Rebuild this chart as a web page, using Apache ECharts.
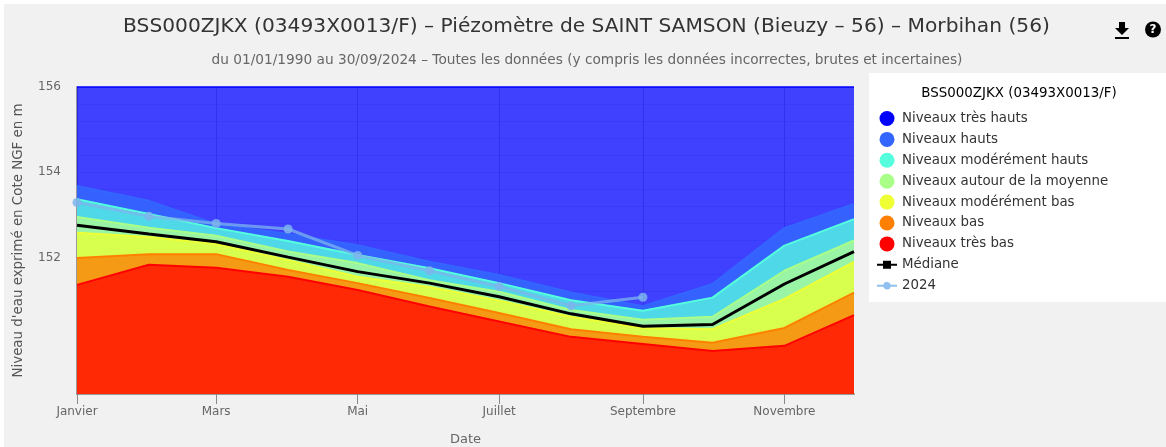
<!DOCTYPE html>
<html>
<head>
<meta charset="utf-8">
<title>Piézomètre de SAINT SAMSON</title>
<script src="https://cdn.jsdelivr.net/npm/echarts@6/dist/echarts.min.js"></script>
<style>
  body { margin: 0; background: #fff; }
  #main { position: absolute; left: 4px; top: 4px; width: 1162px; height: 443px; }
</style>
</head>
<body>
<div id="main"></div>
<script>
// values, one per month (1st of the month)
const months = ['Janvier', 'Février', 'Mars', 'Avril', 'Mai', 'Juin', 'Juillet', 'Août', 'Septembre', 'Octobre', 'Novembre', 'Décembre']
// day of the year of the 1st of each month (2024, leap year)
const monthDays = [0, 31, 60, 91, 121, 152, 182, 213, 244, 274, 305, 335]
const xTickDays = [0, 60, 121, 182, 244, 305]
const yTickLabels = [152, 154, 156]

const tresHauts = [156, 156, 156, 156, 156, 156, 156, 156, 156, 156, 156, 156]
const hauts = [153.68, 153.33, 152.79, 152.55, 152.29, 151.90, 151.59, 151.18, 150.86, 151.38, 152.69, 153.26]
const moderesHauts = [153.37, 153.02, 152.69, 152.39, 152.06, 151.75, 151.40, 151.00, 150.75, 151.06, 152.28, 152.90]
const autourMoyenne = [152.95, 152.70, 152.51, 152.14, 151.87, 151.47, 151.20, 150.77, 150.54, 150.61, 151.69, 152.40]
const moderesBas = [152.58, 152.48, 152.32, 151.94, 151.55, 151.31, 150.99, 150.61, 150.35, 150.32, 151.03, 151.90]
const bas = [151.99, 152.08, 152.08, 151.71, 151.40, 151.05, 150.70, 150.32, 150.14, 150.00, 150.35, 151.18]
const tresBas = [151.36, 151.83, 151.76, 151.55, 151.24, 150.85, 150.50, 150.14, 149.97, 149.81, 149.93, 150.65]
const mediane = [152.76, 152.55, 152.37, 152.01, 151.67, 151.40, 151.08, 150.68, 150.39, 150.43, 151.38, 152.14]
const annee2024 = [153.29, 152.97, 152.80, 152.67, 152.05, 151.69, 151.32, 150.87, 151.07]

const font = '"DejaVu Sans"'
const toPoints = values => values.map((v, i) => [monthDays[i], v])

function areaSerie (name, values, lineColor, fill, opacity) {
  return {
    name: name,
    type: 'line',
    symbol: 'none',
    data: toPoints(values),
    itemStyle: {color: lineColor},
    lineStyle: {color: lineColor, width: 2, opacity: opacity},
    areaStyle: {color: fill, opacity: opacity, origin: 'start'}
  }
}

const chart = echarts.init(document.getElementById('main'))

const option = {
  animation: false,
  backgroundColor: '#f1f1f1',
  textStyle: {fontFamily: font},
  title: [
    {
      text: 'BSS000ZJKX (03493X0013/F) – Piézomètre de SAINT SAMSON (Bieuzy – 56) – Morbihan (56)',
      left: 577.5,
      top: 8,
      textAlign: 'center',
      textStyle: {fontFamily: font, fontSize: 20.2, fontWeight: 'normal', color: '#333'}
    },
    {
      text: 'du 01/01/1990 au 30/09/2024 – Toutes les données (y compris les données incorrectes, brutes et incertaines)',
      left: 578,
      top: 44,
      textAlign: 'center',
      textStyle: {fontFamily: font, fontSize: 13.7, fontWeight: 'normal', color: '#666'}
    },
    {
      text: 'BSS000ZJKX (03493X0013/F)',
      left: 1010,
      top: 78,
      textAlign: 'center',
      textStyle: {fontFamily: font, fontSize: 13.4, fontWeight: 'normal', color: '#000'}
    }
  ],
  graphic: [
    {type: 'rect', shape: {x: 865, y: 69, width: 297, height: 229}, style: {fill: '#fff'}, z: 0},
    {type: 'polygon', shape: {points: [[1115, 18], [1121, 18], [1121, 24], [1125, 24], [1118, 31], [1111, 24], [1115, 24]]}, style: {fill: '#000'}},
    {type: 'rect', shape: {x: 1111, y: 33, width: 14, height: 2}, style: {fill: '#000'}},
    {type: 'circle', shape: {cx: 1149, cy: 25.5, r: 8}, style: {fill: '#000'}},
    {type: 'text', x: 1149, y: 25.5, style: {text: '?', fill: '#fff', fontFamily: font, fontSize: 12, fontWeight: 'bold', align: 'center', verticalAlign: 'middle'}}
  ],
  legend: {
    orient: 'vertical',
    left: 868,
    top: 102,
    itemWidth: 20,
    itemHeight: 15,
    itemGap: 5.9,
    selectedMode: false,
    textStyle: {fontFamily: font, fontSize: 13.35, lineHeight: 15, color: '#333'},
    data: [
      {name: 'Niveaux très hauts', icon: 'circle'},
      {name: 'Niveaux hauts', icon: 'circle'},
      {name: 'Niveaux modérément hauts', icon: 'circle'},
      {name: 'Niveaux autour de la moyenne', icon: 'circle'},
      {name: 'Niveaux modérément bas', icon: 'circle'},
      {name: 'Niveaux bas', icon: 'circle'},
      {name: 'Niveaux très bas', icon: 'circle'},
      {name: 'Médiane', icon: 'path://M0 3H6V0H14V3H20V5H14V8H6V5H0Z'},
      {name: '2024', icon: 'path://M0 3H6.2A4 4 0 0 1 13.8 3H20V5H13.8A4 4 0 0 1 6.2 5H0Z'}
    ]
  },
  grid: {
    left: 73,
    right: 312,
    top: 83,
    bottom: 53,
    show: true,
    backgroundColor: '#fff',
    borderWidth: 0,
    outerBoundsMode: 'none'
  },
  xAxis: {
    type: 'value',
    min: 0,
    max: 335,
    name: 'Date',
    nameLocation: 'middle',
    nameGap: 39,
    nameTextStyle: {fontFamily: font, fontSize: 13, color: '#666'},
    axisLine: {lineStyle: {color: '#999', width: 2}},
    axisTick: {
      length: 10,
      lineStyle: {color: '#888', width: 1},
      customValues: xTickDays
    },
    axisLabel: {
      fontFamily: font,
      fontSize: 12,
      color: '#666',
      margin: 12,
      customValues: xTickDays,
      formatter: v => months[monthDays.indexOf(v)]
    },
    splitLine: {show: true, lineStyle: {color: '#c4c4c4', width: 1}}
  },
  yAxis: {
    type: 'value',
    min: 148.8,
    max: 156,
    interval: 0.4,
    name: "Niveau d'eau exprimé en Cote NGF en m",
    nameLocation: 'middle',
    nameGap: 52,
    nameTextStyle: {fontFamily: font, fontSize: 13.4, color: '#555'},
    axisLine: {show: true, lineStyle: {color: '#999', width: 2}},
    axisTick: {show: false},
    axisLabel: {
      fontFamily: font,
      fontSize: 12,
      color: '#666',
      margin: 16,
      formatter: v => {
        let rounded = Math.round(v * 10) / 10
        return yTickLabels.indexOf(rounded) >= 0 ? String(rounded) : ''
      }
    },
    splitLine: {show: true, lineStyle: {color: '#e6e6e6', width: 1}}
  },
  series: [
    areaSerie('Niveaux très hauts', tresHauts, '#0000ff', '#0000ff', 0.75),
    areaSerie('Niveaux hauts', hauts, '#3366ff', '#3561ff', 1),
    areaSerie('Niveaux modérément hauts', moderesHauts, '#55ffdd', '#4fd8e8', 1),
    areaSerie('Niveaux autour de la moyenne', autourMoyenne, '#aaff88', '#99f5a5', 1),
    areaSerie('Niveaux modérément bas', moderesBas, '#eeff33', '#d8ff4d', 1),
    areaSerie('Niveaux bas', bas, '#ff8000', '#f59a15', 1),
    areaSerie('Niveaux très bas', tresBas, '#ff0000', '#ff2a05', 1),
    {
      name: 'Médiane',
      type: 'line',
      symbol: 'none',
      data: toPoints(mediane),
      itemStyle: {color: '#000'},
      lineStyle: {color: '#000', width: 3}
    },
    {
      name: '2024',
      type: 'line',
      symbol: 'circle',
      symbolSize: 9,
      data: toPoints(annee2024),
      itemStyle: {color: '#7cb5ec', opacity: 0.85},
      lineStyle: {color: '#7cb5ec', width: 3, opacity: 0.75}
    }
  ]
}

chart.setOption(option)
</script>
</body>
</html>
